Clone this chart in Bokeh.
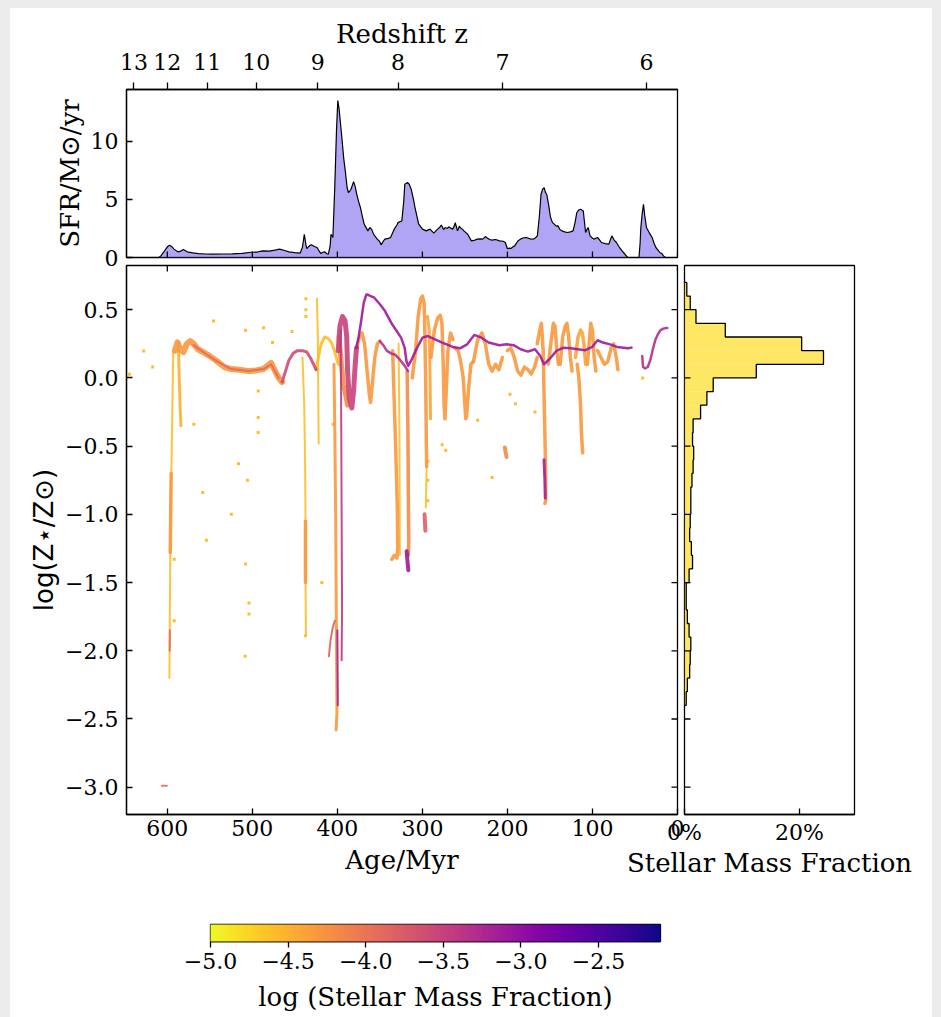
import numpy as np
from bokeh.plotting import figure
from bokeh.layouts import column, row
from bokeh.models import (Range1d, FixedTicker, LinearColorMapper,
                          ColorBar, ColumnDataSource)
from bokeh.palettes import Plasma256
from bokeh.transform import transform
from bokeh.embed import file_html
from bokeh.resources import INLINE

# ---------------- data ----------------
# star-formation history (age in Myr, SFR in Msun/yr)
SFR_AGE = [612, 609.9, 607.6, 603.2, 599.5, 597.4, 595, 592.1, 587.7, 584, 581.1, 576.6, 570,
           563.3, 555, 545.6, 535, 523.5, 512, 501.4, 494, 488.1, 480, 472, 468.1, 462, 457.1,
           450, 443.8, 441, 438.9, 437, 435.9, 433, 430.5, 427, 423.9, 421, 419.4, 417, 415.1,
           412, 410.6, 408.5, 407.5, 405.3, 403.1, 401, 399.5, 398, 395.1, 392.5, 390.7, 388.5,
           387.1, 385.5, 384.0, 380.9, 379, 377.4, 375, 372.9, 370.5, 368.5, 364.1, 361.9, 359.5,
           357.4, 353.1, 350.5, 348.6, 346, 344.1, 340, 337.5, 333.1, 330, 328.7, 326, 324.2, 322,
           320.7, 317.6, 315.5, 313.2, 310.5, 308.7, 304.4, 299.9, 295.5, 291.1, 286.6, 282.2,
           279.5, 277.8, 275, 273.3, 270.5, 268.9, 266, 264.5, 262.5, 261.4, 258.7, 256.5, 255.6,
           252.5, 251.2, 246.7, 242.4, 238, 235.6, 232, 229.1, 226, 224.6, 221, 218, 214, 209.2,
           205, 202.5, 200.2, 197, 195.9, 193, 191.4, 188, 184.8, 181, 178.1, 173, 169.3, 167,
           164.8, 162.5, 160.5, 158.5, 156.8, 155.3, 153.8, 151.5, 149.3, 147, 144.9, 142.5, 140.5,
           138.3, 136.1, 132.7, 129.4, 126, 122.8, 120.5, 118.4, 116, 113.9, 110.8, 108.1, 106.5,
           105.1, 102.8, 100.5, 98.4, 94.0, 91.5, 89.5, 85, 80.7, 79, 77.2, 74.5, 71.9, 68.5, 65.2,
           62, 58.6, 45.3, 44, 43.1, 41.5, 40.0, 38.5, 36.5, 33, 29.8, 27.5, 25.4, 22.5, 20.9, 18.5,
           16.5, 14.4]
SFR_VAL = [0.0, 0.0, 0.14, 0.57, 0.95, 1.06, 0.95, 0.72, 0.49, 0.55, 0.69, 0.49, 0.40,
           0.34, 0.30, 0.29, 0.30, 0.32, 0.36, 0.45, 0.47, 0.57, 0.55, 0.65, 0.72, 0.60, 0.49,
           0.42, 0.37, 0.90, 2.0, 1.1, 0.77, 1.0, 1.09, 0.95, 0.86, 0.50, 0.34, 0.45, 0.49,
           0.30, 0.29, 1.0, 2.0, 1.72, 6.0, 11.0, 13.5, 12.8, 10.6, 8.5, 7.45, 6.0,
           5.59, 5.7, 5.87, 6.53, 6.1, 5.5, 4.8, 4.3, 3.5, 2.87, 2.29, 2.58, 2.4,
           2.0, 1.58, 1.4, 1.09, 1.4, 1.58, 1.65, 1.72, 2.44, 2.8, 3.0, 3.1, 3.15, 4.8,
           6.3, 6.45, 6.3, 5.87, 5.0, 4.3, 2.87, 2.44, 2.29, 2.44, 2.09, 2.44,
           2.6, 2.8, 2.4, 2.58, 2.5, 2.64, 2.5, 2.44, 2.7, 3.0, 2.29, 2.7, 2.58,
           2.4, 2.29, 2.0, 1.43, 1.5, 1.58, 1.6, 1.58, 1.8, 1.72, 1.55, 1.49, 1.55, 1.43,
           1.4, 1.29, 0.77, 0.80, 0.77, 0.95, 1.0, 1.4, 1.58, 1.7, 1.72, 1.6, 1.58, 1.7,
           1.86, 3.5, 5.44, 5.9, 6.0, 5.6, 5.44, 4.5, 3.44, 3.0, 2.87, 2.7, 2.72,
           2.4, 2.29, 2.2, 2.15, 2.2, 2.29, 3.0, 3.87, 4.1, 4.15, 4.0, 2.15, 2.4,
           2.58, 1.86, 1.7, 1.58, 1.72, 1.5, 1.29, 1.2, 1.15, 1.5, 1.86, 1.5, 1.29, 0.9, 0.57,
           0.30, 0.0, 0.0, 1.2, 2.58, 3.8, 4.58, 3.6, 2.58, 2.1, 1.72, 1.2, 0.86, 0.6, 0.43, 0.35,
           0.14, 0.0]

# redshift ticks (age positions) for the top axis
REDSHIFT_LABELS = ["13", "12", "11", "10", "9", "8", "7", "6"]
REDSHIFT_AGE = [639.3, 600.0, 552.9, 495.3, 423.0, 328.7, 205.9, 36.5]

# stellar-particle tracks: age (Myr), log(Z*/Zsun), log(stellar mass fraction)
TRACK_AGE = [
    [591, 588, 585, 581, 577, 573, 569, 564, 558, 550, 541, 533, 525, 515, 504, 495, 487, 482, 478, 474, 469, 465],
    [569, 558, 541, 525, 504, 487, 478, 469],
    [465, 461, 457, 452, 447, 441, 436, 432, 428, 425],
    [425, 422, 419, 415, 411, 407, 403, 399],
    [593, 594, 595, 596, 596.5, 597, 597.5],
    [595.5, 596, 596.5],
    [597, 597.2],
    [587, 586, 585, 584],
    [441, 439, 438, 437.5, 437.5, 437],
    [437.5, 437.5],
    [424, 423, 422.5, 422],
    [404, 403, 402, 401.5, 401, 400.5, 401.5],
    [400, 399.5],
    [396, 395.5, 395, 394.5, 395],
    [410, 408, 405.5, 403],
    [399, 397, 394, 391, 389, 388, 386, 383, 381, 379, 377.5],
    [398, 396, 393, 391, 389.5, 388],
    [377.6, 375, 372, 369, 366, 365, 360.8, 356.6, 350, 344, 335.6, 325.1, 320.9, 318.8, 316.7,
     312.5, 306.2, 299.9, 293.6, 285.2, 276.8, 264.2, 255.8, 247.4, 239, 230.6, 222.1, 209.5,
     201.2, 192.7, 184.4, 176, 167.6, 161.3, 157.1, 150.7, 142.4, 134, 125.5, 117.2, 108.8,
     100.4, 94, 87.8, 79.3, 71, 58.4, 54.1],
    [377.5, 374, 371, 368, 365, 362.5, 361, 359, 356, 353, 350],
    [350, 346, 342, 337, 332, 326, 321, 317],
    [335, 333, 331, 329.5, 329, 330, 333, 336],
    [328, 327, 326.5],
    [318, 317, 316.5, 316, 316.5],
    [318.5, 317.5, 316.5],
    [312, 308, 305, 302, 300, 298, 297, 296, 295.5, 295],
    [295, 296],
    [297.5, 297, 296.5],
    [294, 292, 291, 290.5],
    [290, 286, 282, 279, 277, 275.5, 274.5, 273.5, 272, 270, 267, 264],
    [262, 258, 255, 252, 250, 249, 248, 246, 243, 240],
    [240, 235, 230, 226, 222, 218, 214, 210, 206],
    [203, 202, 201],
    [200, 196, 192, 188, 184, 180, 176, 172, 168, 165],
    [165, 162, 160, 158, 157, 156, 155, 155, 156],
    [157, 156, 155.5],
    [152, 148, 146, 144, 142, 140],
    [138, 135, 132, 130, 128, 126, 124],
    [118, 116, 114, 113, 112, 111.5],
    [120, 117, 114, 112, 110, 108],
    [106, 104, 102, 100, 98, 96],
    [94, 90, 86, 82, 78, 75, 72, 70],
    [41.5, 40.5, 38, 35, 32, 29, 26, 23, 20, 17, 14, 12],
    [606.5, 600.5],
]
TRACK_LOGZ = [
    [0.20, 0.26, 0.21, 0.19, 0.25, 0.27, 0.25, 0.21, 0.19, 0.16, 0.12, 0.08, 0.065, 0.06, 0.05, 0.055, 0.065, 0.09, 0.11, 0.06, 0.0, -0.03],
    [0.24, 0.19, 0.12, 0.065, 0.05, 0.065, 0.10, 0.0],
    [-0.03, 0.05, 0.13, 0.18, 0.20, 0.20, 0.19, 0.15, 0.10, 0.06],
    [0.06, 0.16, 0.25, 0.30, 0.29, 0.26, 0.19, 0.10],
    [0.2, -0.2, -0.6, -0.9, -1.3, -1.7, -2.2],
    [-0.7, -1.0, -1.28],
    [-1.85, -2.0],
    [0.26, 0.0, -0.2, -0.35],
    [0.15, -0.2, -0.6, -1.0, -1.4, -1.88],
    [-1.05, -1.5],
    [0.58, 0.3, -0.1, -0.48],
    [0.1, -0.4, -1.0, -1.5, -2.0, -2.45, -2.58],
    [-1.85, -2.4],
    [0.35, -0.3, -1.0, -1.7, -2.07],
    [-2.04, -1.92, -1.83, -1.78],
    [0.2, 0.38, 0.45, 0.42, 0.3, 0.05, -0.15, -0.22, -0.1, 0.1, 0.22],
    [0.3, 0.15, -0.05, -0.1, -0.15, -0.2],
    [0.22, 0.30, 0.42, 0.55, 0.61, 0.612, 0.60, 0.588, 0.54, 0.49, 0.393, 0.295, 0.222, 0.124, 0.088,
     0.137, 0.222, 0.295, 0.307, 0.283, 0.259, 0.227, 0.217, 0.246, 0.315, 0.295, 0.259, 0.24,
     0.246, 0.24, 0.21, 0.193, 0.21, 0.161, 0.10, 0.137, 0.198, 0.222, 0.217, 0.21, 0.202,
     0.227, 0.276, 0.259, 0.246, 0.227, 0.217, 0.222],
    [0.22, 0.30, 0.33, 0.25, 0.05, -0.12, -0.18, -0.05, 0.15, 0.25, 0.27],
    [0.27, 0.24, 0.20, 0.18, 0.17, 0.13, 0.09, 0.05],
    [0.2, -0.2, -0.6, -0.95, -1.25, -1.32, -1.30, -1.33],
    [0.25, -0.4, -1.3],
    [0.05, -0.4, -0.9, -1.2, -1.3],
    [-1.27, -1.35, -1.41],
    [0.0, 0.2, 0.45, 0.58, 0.6, 0.55, 0.3, -0.1, -0.4, -0.65],
    [-0.65, -0.95],
    [-1.0, -1.06, -1.12],
    [0.45, 0.35, 0.0, -0.3],
    [0.15, 0.35, 0.44, 0.46, 0.40, 0.1, -0.2, -0.3, -0.1, 0.2, 0.33, 0.28],
    [0.22, 0.2, 0.12, 0.0, -0.2, -0.3, -0.28, -0.1, 0.1, 0.12],
    [0.12, 0.28, 0.33, 0.25, 0.1, 0.05, 0.1, 0.06, 0.15],
    [-0.51, -0.55, -0.58],
    [0.2, 0.22, 0.15, 0.05, 0.02, 0.08, 0.06, 0.03, 0.08, 0.15],
    [0.25, 0.35, 0.40, 0.2, -0.1, -0.4, -0.7, -0.9, -0.92],
    [-0.6, -0.75, -0.88],
    [0.1, 0.3, 0.40, 0.38, 0.2, 0.1],
    [0.1, 0.3, 0.38, 0.40, 0.3, 0.15, 0.05],
    [0.1, 0.0, -0.2, -0.4, -0.5, -0.55],
    [0.15, 0.3, 0.35, 0.33, 0.25, 0.1],
    [0.1, 0.25, 0.40, 0.35, 0.15, 0.05],
    [0.2, 0.15, 0.1, 0.12, 0.22, 0.25, 0.15, 0.06],
    [0.16, 0.08, 0.07, 0.08, 0.13, 0.21, 0.28, 0.32, 0.35, 0.36, 0.365, 0.365],
    [-2.99, -2.99],
]
TRACK_LOGF = [-4.3, -3.9, -3.6, -4.6, -4.6, -4.3, -3.9, -4.5, -4.6, -4.3, -4.6, -4.3, -3.2, -3.4,
              -3.8, -3.5, -4.2, -3.1, -4.3, -3.3, -4.3, -4.6, -4.2, -3.1, -4.3, -4.6, -3.8, -4.4,
              -4.3, -4.3, -4.3, -4.2, -4.3, -4.3, -3.2, -4.3, -4.3, -4.3, -4.4, -4.3, -4.3, -3.3,
              -3.9]

# isolated particles
DOT_AGE = [644.6, 627.8, 617.3, 545.6, 486.8, 508, 568.8, 493.1, 493.1, 493.1, 516.3, 505.8, 558.3,
           524.7, 554.1, 404.9, 453.3, 476.3, 218, 197.0, 167.6, 235, 190.6, 276.8, 272.6, 293.6,
           293.6, 293.6, 507.9, 504, 504, 508.4, 591.9, 591.9, 418.3, 437.6, 437, 437, 437, 41]
DOT_LOGZ = [0.027, 0.198, 0.08, 0.417, 0.368, 0.35, -0.34, -0.095, -0.29, -0.40, -0.63, -0.75, -0.84,
            -1.0, -1.19, -0.34, 0.34, 0.26, -0.73, -0.12, -0.25, -0.31, -0.19, -0.49, -0.53, -0.61,
            -0.75, -0.9, -1.363, -1.65, -1.73, -2.04, -1.33, -1.78, -1.50, -1.89, 0.58, 0.5, 0.45, 0.0]
DOT_LOGF = [-4.6] * len(DOT_AGE)

# mass-weighted metallicity histogram (bins of log Z, percent of stellar mass)
HIST_EDGES = [-2.4, -2.3, -2.2, -2.1, -2.0, -1.9, -1.8, -1.7, -1.6, -1.5, -1.4, -1.3, -1.2, -1.1,
              -1.0, -0.9, -0.8, -0.7, -0.6, -0.5, -0.4, -0.3, -0.2, -0.1, 0.0, 0.1, 0.2, 0.3, 0.4,
              0.5, 0.6, 0.7]
HIST_PCT = [0.3, 0.5, 0.9, 1.0, 1.1, 0.8, 0.5, 0.3, 0.3, 0.8, 1.4, 1.2, 0.9, 1.0, 1.1, 1.1, 1.3,
            1.5, 1.6, 1.4, 1.5, 2.8, 3.9, 5.0, 12.5, 24.2, 20.4, 7.1, 2.0, 1.0, 0.4]

AGE_TICKS = [600, 500, 400, 300, 200, 100, 0]
LOGZ_TICKS = [-3.0, -2.5, -2.0, -1.5, -1.0, -0.5, 0.0, 0.5]
SFR_TICKS = [0, 5, 10]
HIST_TICKS = [0, 20]
HIST_TICK_LABELS = ["0%", "20%"]
CB_TICKS = [-5.0, -4.5, -4.0, -3.5, -3.0, -2.5]
CB_LOW, CB_HIGH = -5.0, -2.1

# ---------------- style ----------------
SERIF = "DejaVu Serif"
SANS = "DejaVu Sans"
TICK_PX = "22px"
LABEL_PX = "26px"
TICK_LEN = 12  # marker length; half of it lies inside the frame
TRACK_PX_BY_INDEX = [6, 2, 3, 3, 2, 3.5, 2, 3, 2, 3.5, 2, 3, 2, 2, 2, 5, 5, 2.5, 3.5, 2.5, 3.5, 2,
                     3.5, 4, 3.5, 2, 4, 3, 3.5, 3.5, 3.5, 4, 3.5, 3.5, 3, 3.5, 3.5, 3.5, 3.5, 3.5,
                     3.5, 2.5, 2]


def minus(v):
    return f"{v:.1f}".replace("-", "\u2212")


def style_axis(ax, tick_in=6, tick_out=0):
    ax.major_tick_in = tick_in
    ax.major_tick_out = tick_out
    ax.minor_tick_line_color = None
    ax.major_tick_line_color = "black"
    ax.major_tick_line_width = 1.3
    ax.axis_line_color = "black"
    ax.axis_line_width = 1.3
    ax.major_label_text_font = SERIF
    ax.major_label_text_font_size = TICK_PX
    ax.major_label_text_color = "black"
    ax.axis_label_text_font = SERIF
    ax.axis_label_text_font_size = LABEL_PX
    ax.axis_label_text_font_style = "normal"
    ax.axis_label_text_color = "black"


def base_style(p):
    p.outline_line_color = "black"
    p.outline_line_width = 1.3
    p.background_fill_color = "white"
    p.border_fill_color = None
    p.xgrid.visible = False
    p.ygrid.visible = False


def mirror_ticks(p, xs, ys, vertical):
    # inward tick marks on a frame side without tick labels
    p.scatter(x=xs, y=ys, marker="dash", size=TICK_LEN, angle=(np.pi / 2 if vertical else 0.0),
              line_color="black", line_width=1.3)


mapper = LinearColorMapper(palette=list(reversed(Plasma256)), low=CB_LOW, high=CB_HIGH)

# ---------------- main panel ----------------
main = figure(x_range=Range1d(648, 0), y_range=Range1d(-3.2, 0.824),
              frame_width=551, frame_height=549,
              min_border_left=116, min_border_right=10, min_border_top=4, min_border_bottom=72,
              output_backend="svg", toolbar_location=None)
base_style(main)

xa = main.xaxis[0]
style_axis(xa)
xa.ticker = FixedTicker(ticks=AGE_TICKS)
xa.axis_label = "Age/Myr"
xa.major_label_standoff = 5
xa.axis_label_standoff = 6

ya = main.yaxis[0]
style_axis(ya)
ya.ticker = FixedTicker(ticks=LOGZ_TICKS)
ya.major_label_overrides = {v: minus(v) for v in LOGZ_TICKS}
ya.axis_label = "log(Z\u22c6/Z\u2299)"
ya.axis_label_text_font = SANS
ya.major_label_standoff = 8
ya.axis_label_standoff = 3

order = sorted(range(len(TRACK_LOGF)), key=lambda i: TRACK_LOGF[i])
track_src = ColumnDataSource(dict(
    xs=[TRACK_AGE[i] for i in order],
    ys=[TRACK_LOGZ[i] for i in order],
    f=[TRACK_LOGF[i] for i in order],
    w=[TRACK_PX_BY_INDEX[i] for i in order],
))
dot_src = ColumnDataSource(dict(x=DOT_AGE, y=DOT_LOGZ, f=DOT_LOGF))
main.scatter("x", "y", source=dot_src, marker="square", size=3,
             fill_color=transform("f", mapper), line_color=None)
main.multi_line("xs", "ys", source=track_src, line_color=transform("f", mapper),
                line_width="w", line_alpha=0.9, line_join="round", line_cap="round")
mirror_ticks(main, AGE_TICKS, [main.y_range.end] * len(AGE_TICKS), vertical=True)
mirror_ticks(main, [main.x_range.end] * len(LOGZ_TICKS), LOGZ_TICKS, vertical=False)

# ---------------- SFR panel ----------------
top = figure(x_range=main.x_range, y_range=Range1d(0, 14.45),
             frame_width=551, frame_height=168,
             min_border_left=116, min_border_right=255, min_border_top=81, min_border_bottom=12,
             output_backend="svg", toolbar_location=None,
             x_axis_location="above")
base_style(top)
zax = top.xaxis[0]
style_axis(zax, tick_in=0, tick_out=7)
zax.ticker = FixedTicker(ticks=REDSHIFT_AGE)
zax.major_label_overrides = dict(zip(REDSHIFT_AGE, REDSHIFT_LABELS))
zax.axis_label = "Redshift z"
zax.major_label_standoff = 13
zax.axis_label_standoff = 2
tl = top.yaxis[0]
style_axis(tl)
tl.ticker = FixedTicker(ticks=SFR_TICKS)
tl.axis_label = "SFR/M\u2299/yr"
tl.major_label_standoff = 8
tl.axis_label_standoff = 3

top.varea(x=SFR_AGE, y1=0, y2=SFR_VAL, fill_color="#7b68ee", fill_alpha=0.6)
top.line(SFR_AGE, SFR_VAL, line_color="black", line_width=1.2)
mirror_ticks(top, AGE_TICKS, [top.y_range.start] * len(AGE_TICKS), vertical=True)

# ---------------- histogram panel ----------------
hist = figure(x_range=Range1d(0, 29.6), y_range=main.y_range,
              frame_width=170, frame_height=549,
              min_border_left=72, min_border_right=78, min_border_top=4, min_border_bottom=72,
              output_backend="svg", toolbar_location=None, y_axis_location=None)
base_style(hist)
hx = hist.xaxis[0]
style_axis(hx)
hx.ticker = FixedTicker(ticks=HIST_TICKS)
hx.major_label_overrides = dict(zip(HIST_TICKS, HIST_TICK_LABELS))
hx.axis_label = "Stellar Mass Fraction"
hx.major_label_standoff = 5
hx.axis_label_standoff = 0

edges = np.array(HIST_EDGES)
pct = np.array(HIST_PCT)
hist.quad(left=0, right=pct, bottom=edges[:-1], top=edges[1:],
          fill_color="gold", fill_alpha=0.6, line_color=None)
step_x = np.concatenate([[0.0], np.repeat(pct, 2), [0.0]])
step_y = np.concatenate([[edges[0]], np.repeat(edges[:-1], 2)[1:], [edges[-1]], [edges[-1]]])
hist.line(step_x, step_y, line_color="black", line_width=1.3)
mirror_ticks(hist, [hist.x_range.start] * len(LOGZ_TICKS), LOGZ_TICKS, vertical=False)
hist.margin = (0, 0, 0, -75)

# ---------------- colour bar ----------------
cb = figure(x_range=Range1d(CB_LOW, CB_HIGH), y_range=Range1d(0, 1),
            frame_width=450, frame_height=17,
            min_border_left=200, min_border_right=272, min_border_top=38, min_border_bottom=76,
            output_backend="svg", toolbar_location=None, y_axis_location=None)
base_style(cb)
cx = cb.xaxis[0]
style_axis(cx, tick_in=0, tick_out=6)
cx.ticker = FixedTicker(ticks=CB_TICKS)
cx.major_label_overrides = {v: minus(v) for v in CB_TICKS}
cx.axis_label = "log (Stellar Mass Fraction)"
cx.major_label_standoff = 5
cx.axis_label_standoff = 10
bar = ColorBar(color_mapper=mapper, orientation="horizontal", location=(0, 0),
               width=450, height=17, padding=0, margin=0,
               ticker=FixedTicker(ticks=[]), label_standoff=0,
               major_tick_line_color=None, minor_tick_line_color=None,
               bar_line_color=None, background_fill_alpha=0, border_line_color=None)
cb.add_layout(bar, "center")

top_row = row(top)
mid = row(main, hist)
mid.margin = (-8, 0, 0, 0)
cb_row = row(cb)
inner = column(top_row, mid, cb_row, styles={"background-color": "white"})
inner.margin = (8, 9, 0, 10)
layout = column(inner, styles={"background-color": "#ececec"})

open("out.html", "w").write(file_html(layout, INLINE))
